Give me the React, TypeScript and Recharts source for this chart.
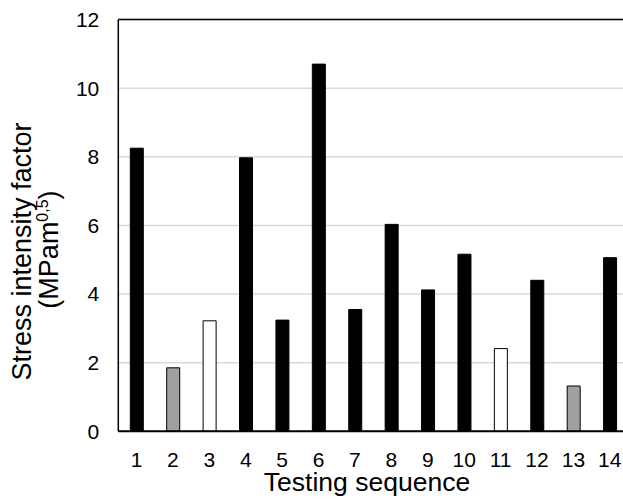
import React from 'react';
import { BarChart, Bar, XAxis, YAxis, CartesianGrid, Cell, ReferenceLine } from 'recharts';

const categories = ['1', '2', '3', '4', '5', '6', '7', '8', '9', '10', '11', '12', '13', '14'];
const values = [8.25, 1.85, 3.22, 7.97, 3.24, 10.7, 3.55, 6.03, 4.12, 5.16, 2.41, 4.4, 1.32, 5.06];
const groups = ['solid', 'gray', 'open', 'solid', 'solid', 'solid', 'solid', 'solid', 'solid', 'solid', 'open', 'solid', 'gray', 'solid'];
const yTicks = [0, 2, 4, 6, 8, 10, 12];
const xTitle = 'Testing sequence';
const yTitleLine1 = 'Stress intensity factor';
const yTitleUnit = 'MPam';
const yTitleExp = '0,5';

const groupFill: Record<string, string> = { solid: '#000000', gray: '#a0a0a0', open: '#ffffff' };

const data = categories.map((c, i) => ({ seq: c, k: values[i], group: groups[i] }));

const FONT = '"Liberation Sans", Arial, sans-serif';

const YTitle = () => (
  <g fontFamily={FONT} fill="#000">
    <text x={30.5} y={251.5} transform="rotate(-90, 30.5, 251.5)" textAnchor="middle" fontSize={27}>
      {yTitleLine1}
    </text>
    <text x={57.5} y={249.5} transform="rotate(-90, 57.5, 249.5)" textAnchor="middle" fontSize={27}>
      ({yTitleUnit}<tspan fontSize={16} dy={-10}>{yTitleExp}</tspan><tspan dy={10}>)</tspan>
    </text>
  </g>
);

const XTitle = () => (
  <text x={367} y={491} textAnchor="middle" fontSize={26.5} fontFamily={FONT} fill="#000">
    {xTitle}
  </text>
);

export default function App() {
  return (
    <div style={{ width: 623, height: 500, overflow: 'hidden' }}>
      <style>{'body{margin:0}'}</style>
      <BarChart
        width={623}
        height={500}
        data={data}
        margin={{ top: 19.5, right: -5, left: 0, bottom: 0 }}
        barSize={13}
      >
        <CartesianGrid horizontal vertical={false} stroke="#d9d9d9" strokeWidth={1.5} />
        <XAxis
          dataKey="seq"
          height={68.7}
          tickLine={false}
          tickSize={0}
          tickMargin={21}
          axisLine={{ stroke: '#000', strokeWidth: 2 }}
          tick={{ fill: '#000', fontSize: 21, fontFamily: FONT }}
          interval={0}
          label={{ content: () => <XTitle /> }}
        />
        <YAxis
          width={118.3}
          domain={[0, 12]}
          ticks={yTicks}
          interval={0}
          tickLine={false}
          tickSize={0}
          tickMargin={19}
          axisLine={{ stroke: '#000', strokeWidth: 1.5 }}
          tick={{ fill: '#000', fontSize: 21, fontFamily: FONT }}
          label={{ content: () => <YTitle /> }}
        />
        <ReferenceLine y={12} stroke="#000" strokeWidth={1.5} />
        <Bar dataKey="k" isAnimationActive={false} stroke="#000" strokeWidth={1}>
          {data.map((d, i) => (
            <Cell key={i} fill={groupFill[d.group]} />
          ))}
        </Bar>
      </BarChart>
    </div>
  );
}
